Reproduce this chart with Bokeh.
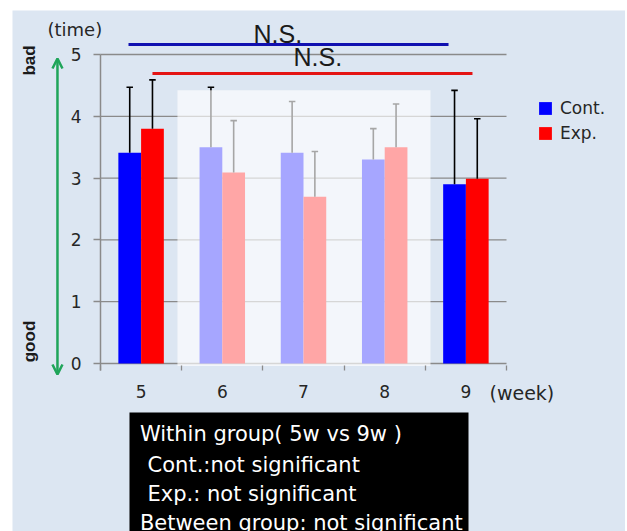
import math
from bokeh.plotting import figure
from bokeh.models import (Range1d, FixedTicker, Legend, LegendItem, Label, Arrow,
                          OpenHead, BoxAnnotation, ColumnDataSource)
from bokeh.embed import file_html
from bokeh.resources import INLINE

# ---------------- data ----------------
weeks = [5, 6, 7, 8, 9]
series_names = ["Cont.", "Exp."]
cont_mean = [3.41, 3.50, 3.41, 3.30, 2.90]
cont_sd = [1.06, 0.97, 0.83, 0.50, 1.52]
exp_mean = [3.80, 3.09, 2.70, 3.50, 2.99]
exp_sd = [0.79, 0.84, 0.73, 0.70, 0.97]
y_ticks = [0, 1, 2, 3, 4, 5]
x_unit_label = "(week)"
y_unit_label = "(time)"
y_top_word = "bad"
y_bottom_word = "good"
ns_labels = ["N.S.", "N.S."]
note_lines = ["Within group( 5w vs 9w )",
              "Cont.:not significant",
              "Exp.: not significant",
              "Between group: not significant"]

# ---------------- style ----------------
BG = "#dce6f2"
GRID = "#8a8a8a"
BLUE = "#0000ff"
RED = "#ff0000"
GREEN = "#1fa55a"
BAR_W = 0.28
OFF = 0.14
CAP = 0.04

XL = weeks[0] - 0.5
XR = weeks[-1] + 0.5

p = figure(width=613, height=521, x_range=Range1d(3.4163, 10.9655), y_range=Range1d(-2.7184, 5.7120),
           output_backend="svg", toolbar_location=None,
           min_border_left=0, min_border_right=0, min_border_top=0, min_border_bottom=0)
p.margin = (10, 2, 0, 12)
p.background_fill_color = BG
p.border_fill_color = BG
p.outline_line_color = None
p.xgrid.visible = False
p.ygrid.visible = False

ya = p.yaxis[0]
ya.fixed_location = XL
ya.ticker = FixedTicker(ticks=y_ticks)
ya.bounds = (-0.11, 5)
ya.axis_line_color = GRID
ya.axis_line_width = 1.5
ya.major_tick_line_color = GRID
ya.major_tick_line_width = 1.3
ya.major_tick_out = 7
ya.major_tick_in = 0
ya.minor_tick_line_color = None
ya.major_label_text_font = "DejaVu Sans"
ya.major_label_text_font_size = "17px"
ya.major_label_text_color = "#262626"
ya.major_label_standoff = 12

xa = p.xaxis[0]
xa.fixed_location = -0.04
xa.ticker = FixedTicker(ticks=weeks, minor_ticks=[w - 0.5 for w in weeks] + [XR])
xa.bounds = (XL, XR)
xa.axis_line_color = None
xa.major_tick_line_color = None
xa.major_tick_out = 0
xa.major_tick_in = 0
xa.minor_tick_line_color = GRID
xa.minor_tick_line_width = 1.3
xa.minor_tick_out = 5
xa.minor_tick_in = 0
xa.major_label_text_font = "DejaVu Sans"
xa.major_label_text_font_size = "17px"
xa.major_label_text_color = "#262626"
xa.major_label_standoff = 14

# horizontal grid lines (category span only)
p.segment(x0=[XL] * len(y_ticks), x1=[XR] * len(y_ticks), y0=y_ticks, y1=y_ticks,
          line_color=GRID, line_width=1.3)

# bars
cx = [w - OFF for w in weeks]
ex = [w + OFF for w in weeks]
src_c = ColumnDataSource(dict(x=cx, top=cont_mean, etop=[m + s for m, s in zip(cont_mean, cont_sd)]))
src_e = ColumnDataSource(dict(x=ex, top=exp_mean, etop=[m + s for m, s in zip(exp_mean, exp_sd)]))

rc = p.vbar(x="x", top="top", bottom=0, width=BAR_W, source=src_c, fill_color=BLUE, line_color=None)
re_ = p.vbar(x="x", top="top", bottom=0, width=BAR_W, source=src_e, fill_color=RED, line_color=None)

for src, xs in ((src_c, cx), (src_e, ex)):
    p.segment(x0="x", y0="top", x1="x", y1="etop", source=src, line_color="black", line_width=1.6)
    cap = ColumnDataSource(dict(x0=[x - CAP for x in xs], x1=[x + CAP for x in xs], y=src.data["etop"]))
    p.segment(x0="x0", y0="y", x1="x1", y1="y", source=cap, line_color="black", line_width=1.6)

# faded panel over weeks 6-8
p.quad(left=[5.448], right=[8.564], bottom=[-0.04], top=[4.42],
       fill_color="white", fill_alpha=0.65, line_color=None)

# N.S. comparison lines
p.segment(x0=[weeks[0] - 0.155], x1=[weeks[-1] - 0.214], y0=[5.162], y1=[5.162],
          line_color="#1010b0", line_width=3)
p.segment(x0=[weeks[0] + 0.14], x1=[weeks[-1] + 0.081], y0=[4.693], y1=[4.693],
          line_color="#e41414", line_width=3)
p.add_layout(Label(x=6.384, y=5.324, text=ns_labels[0], text_font="Liberation Sans",
                   text_font_size="25px", text_color="#1a1a1a", text_baseline="alphabetic"))
p.add_layout(Label(x=6.877, y=4.952, text=ns_labels[1], text_font="Liberation Sans",
                   text_font_size="25px", text_color="#1a1a1a", text_baseline="alphabetic"))

# axis decorations
p.add_layout(Label(x=3.847, y=5.404, text=y_unit_label, text_font="DejaVu Sans",
                   text_font_size="18px", text_color="#262626", text_baseline="alphabetic"))
p.add_layout(Label(x=9.291, y=-0.470, text=x_unit_label, text_font="DejaVu Sans",
                   text_font_size="19px", text_color="#262626", text_baseline="alphabetic"))
p.add_layout(Label(x=3.626, y=4.903, text=y_top_word, angle=math.pi / 2, text_align="center",
                   text_baseline="middle", text_font="Liberation Sans", text_font_style="bold",
                   text_font_size="17px", text_color="#1a1a1a"))
p.add_layout(Label(x=3.626, y=0.356, text=y_bottom_word, angle=math.pi / 2, text_align="center",
                   text_baseline="middle", text_font="Liberation Sans", text_font_style="bold",
                   text_font_size="17px", text_color="#1a1a1a"))
p.add_layout(Arrow(x_start=3.97, y_start=-0.178, x_end=3.97, y_end=4.935,
                   line_color=GREEN, line_width=2.5,
                   start=OpenHead(size=10, line_color=GREEN, line_width=2.5),
                   end=OpenHead(size=10, line_color=GREEN, line_width=2.5)))

# note box
p.add_layout(BoxAnnotation(left=4.857, right=9.032, top=-0.793, bottom=-3.5,
                           fill_color="black", fill_alpha=1.0, line_color=None))
note_pos = [(4.985, -1.133), (5.08, -1.635), (5.08, -2.104), (4.985, -2.573)]
for (lx, ly), txt in zip(note_pos, note_lines):
    p.add_layout(Label(x=lx, y=ly, text=txt, text_font="DejaVu Sans", text_font_size="21px",
                       text_color="white", text_baseline="alphabetic"))

# legend
legend = Legend(items=[LegendItem(label=series_names[0], renderers=[rc]),
                       LegendItem(label=series_names[1], renderers=[re_])],
                location=(525, 388), orientation="vertical",
                glyph_width=16, glyph_height=16, label_height=20, spacing=5,
                label_standoff=7, padding=0, margin=0,
                border_line_color=None, background_fill_alpha=0,
                label_text_font="DejaVu Sans", label_text_font_size="17px",
                label_text_color="#262626")
p.add_layout(legend)

open("out.html", "w").write(file_html(p, INLINE))
